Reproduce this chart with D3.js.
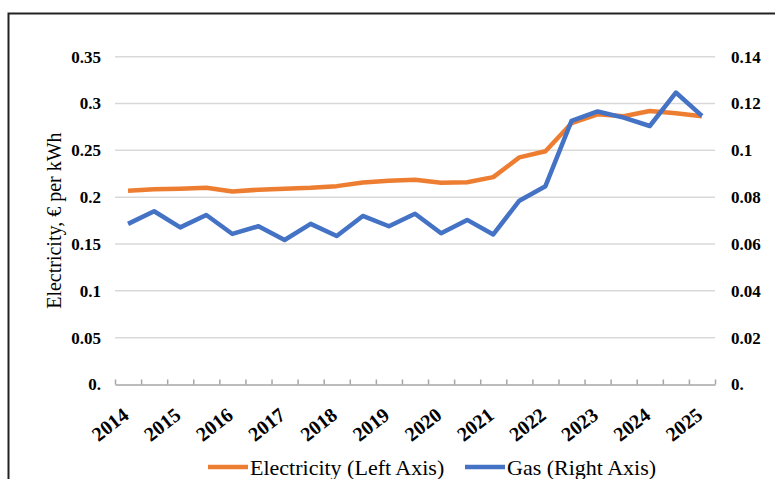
<!DOCTYPE html>
<html>
<head>
<meta charset="utf-8">
<script src="https://cdn.jsdelivr.net/npm/d3@7"></script>
<style>
  body { margin: 0; background: #fff; }
  text { font-family: "Liberation Serif", "Times New Roman", serif; }
</style>
</head>
<body>
<script>
// half-year periods, 2014 S1 .. 2025 S1
var periods = ["2014 S1","2014 S2","2015 S1","2015 S2","2016 S1","2016 S2","2017 S1","2017 S2",
               "2018 S1","2018 S2","2019 S1","2019 S2","2020 S1","2020 S2","2021 S1","2021 S2",
               "2022 S1","2022 S2","2023 S1","2023 S2","2024 S1","2024 S2","2025 S1"];
var yearLabels = ["2014","2015","2016","2017","2018","2019","2020","2021","2022","2023","2024","2025"];

var electricity = [0.207, 0.2086, 0.209, 0.210, 0.206, 0.208, 0.209, 0.210, 0.2118, 0.2157, 0.2175, 0.2186,
                   0.2154, 0.216, 0.2214, 0.2425, 0.249, 0.279, 0.2885, 0.2865, 0.292, 0.2896, 0.2865];
var gas = [0.0686, 0.074, 0.0671, 0.0724, 0.0643, 0.0676, 0.0617, 0.0686, 0.0634, 0.072, 0.0676, 0.0729,
           0.0646, 0.0703, 0.0641, 0.0785, 0.0847, 0.1126, 0.1166, 0.114, 0.1104, 0.1247, 0.1147];

var leftTicks  = [0, 0.05, 0.1, 0.15, 0.2, 0.25, 0.3, 0.35];
var rightTicks = [0, 0.02, 0.04, 0.06, 0.08, 0.1, 0.12, 0.14];

var width = 775, height = 479;
var plotL = 115, plotR = 715, plotT = 56.7, plotB = 384.5;

var svg = d3.select("body").append("svg")
    .attr("width", width)
    .attr("height", height);

// outer frame
svg.append("rect")
    .attr("x", 8.5).attr("y", 13.5)
    .attr("width", 800).attr("height", 500)
    .attr("fill", "none")
    .attr("stroke", "#222")
    .attr("stroke-width", 2);

var x = d3.scaleBand().domain(periods).range([plotL, plotR]).padding(0);
var xEdge = d3.scaleLinear().domain([0, periods.length]).range([plotL, plotR]);
var yL = d3.scaleLinear().domain([0, 0.35]).range([plotB, plotT]);
var yR = d3.scaleLinear().domain([0, 0.14]).range([plotB, plotT]);

var fmt = d => d === 0 ? "0." : d3.format("~g")(d);

// gridlines
svg.append("g")
    .selectAll("line")
    .data(leftTicks.filter(d => d > 0))
    .join("line")
    .attr("x1", plotL).attr("x2", plotR)
    .attr("y1", d => yL(d)).attr("y2", d => yL(d))
    .style("stroke", "#d9d9d9")
    .style("stroke-width", 1.5);

// left axis labels
var gL = svg.append("g")
    .attr("transform", `translate(${plotL},0)`)
    .call(d3.axisLeft(yL).tickValues(leftTicks).tickFormat(fmt).tickSize(0).tickPadding(14));
gL.select(".domain").remove();
gL.selectAll("text")
    .style("font-family", "Liberation Serif")
    .style("font-size", "17px")
    .style("font-weight", "bold")
    .attr("fill", "#000");

// right axis labels
var gR = svg.append("g")
    .attr("transform", `translate(${plotR},0)`)
    .call(d3.axisRight(yR).tickValues(rightTicks).tickFormat(fmt).tickSize(0).tickPadding(16));
gR.select(".domain").remove();
gR.selectAll("text")
    .style("font-family", "Liberation Serif")
    .style("font-size", "17px")
    .style("font-weight", "bold")
    .attr("fill", "#000");

// bottom axis with inside ticks at category edges
var gX = svg.append("g")
    .attr("transform", `translate(0,${plotB})`)
    .call(d3.axisBottom(xEdge).tickValues(d3.range(periods.length + 1)).tickSize(-5).tickSizeOuter(0).tickFormat(""));
gX.selectAll("path, line")
    .attr("stroke", "#a6a6a6")
    .attr("stroke-width", 1.5);

// year labels, one every two periods
svg.append("g")
    .selectAll("text")
    .data(yearLabels)
    .join("text")
    .attr("transform", (d, i) => `translate(${x(periods[i * 2]) + x.bandwidth() / 2 + 2},${plotB + 33}) rotate(-38)`)
    .attr("text-anchor", "end")
    .style("font-family", "Liberation Serif")
    .style("font-size", "20px")
    .style("font-weight", "bold")
    .text(d => d);

// y axis title
svg.append("text")
    .attr("transform", `translate(61,${(plotT + plotB) / 2}) rotate(-90)`)
    .attr("text-anchor", "middle")
    .style("font-size", "20px")
    .text("Electricity, € per kWh");

var cx = (d, i) => x(periods[i]) + x.bandwidth() / 2;

svg.append("path")
    .datum(electricity)
    .attr("fill", "none")
    .attr("stroke", "#ED7D31")
    .attr("stroke-width", 4.5)
    .attr("stroke-linejoin", "round")
    .attr("d", d3.line().x(cx).y(d => yL(d)));

svg.append("path")
    .datum(gas)
    .attr("fill", "none")
    .attr("stroke", "#4472C4")
    .attr("stroke-width", 4.5)
    .attr("stroke-linejoin", "round")
    .attr("d", d3.line().x(cx).y(d => yR(d)));

// legend
var legendItems = [
    {name: "Electricity (Left Axis)", color: "#ED7D31", x: 208},
    {name: "Gas (Right Axis)", color: "#4472C4", x: 465}
];
var lg = svg.append("g")
    .selectAll("g")
    .data(legendItems)
    .join("g")
    .attr("transform", d => `translate(${d.x},467)`);
lg.append("line")
    .attr("x1", 0).attr("x2", 40)
    .attr("stroke", d => d.color)
    .attr("stroke-width", 4.5);
lg.append("text")
    .attr("x", 42).attr("y", 8)
    .style("font-size", "22px")
    .text(d => d.name);
</script>
</body>
</html>
